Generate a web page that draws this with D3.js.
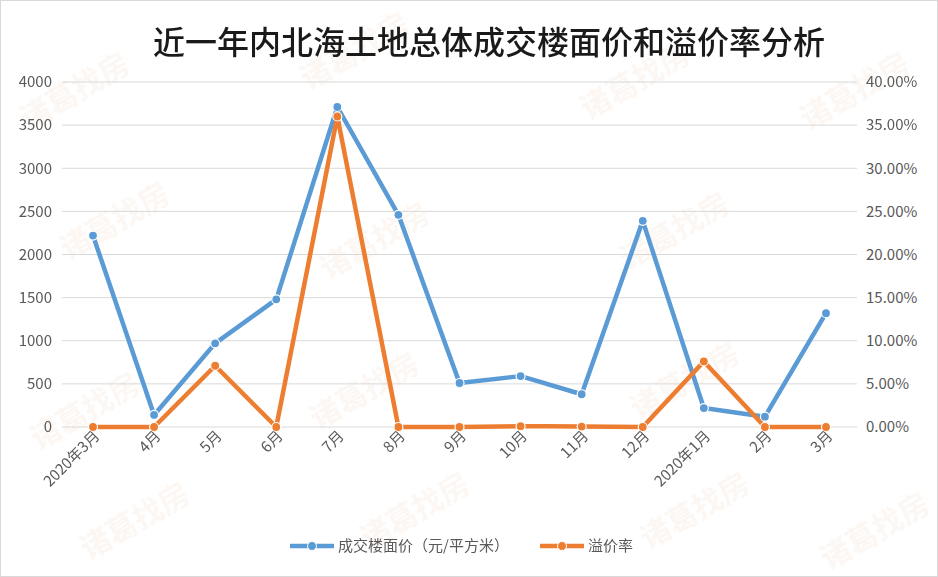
<!DOCTYPE html>
<html><head><meta charset="utf-8">
<script src="https://cdn.jsdelivr.net/npm/d3@7"></script>
<style>body{margin:0;background:#fff;font-family:"Noto Sans CJK SC","Noto Sans",sans-serif;}</style>
</head><body><svg id="c" width="938" height="577"></svg>
<script>
const months = ["2020年3月","4月","5月","6月","7月","8月","9月","10月","11月","12月","2020年1月","2月","3月"];
const price = [2220,140,970,1480,3710,2460,510,590,380,2390,220,120,1320];
const premium = [0,0,7.1,0,36,0,0,0.1,0.05,0,7.6,0,0];
const leftTicks = [0,500,1000,1500,2000,2500,3000,3500,4000];
const rightTicks = [0,5,10,15,20,25,30,35,40];

const svg = d3.select("#c");
svg.append("rect").attr("x",0.5).attr("y",0.5).attr("width",937).attr("height",576)
  .attr("fill","#fff").attr("stroke","#d9d9d9");

// watermark
const wm = svg.append("g").attr("fill","#f6e3d6").attr("font-size",30).attr("font-weight","bold").attr("opacity",0.3);
[[80,100],[360,60],[640,90],[860,100],[120,230],[380,250],[680,240],[90,420],[370,400],[690,390],[140,530],[420,520],[700,520],[880,540]]
  .forEach(([x,y])=>wm.append("text").attr("transform",`translate(${x},${y}) rotate(-30)`).attr("text-anchor","middle").text("诸葛找房"));

svg.append("text").attr("x",489).attr("y",54).attr("text-anchor","middle")
  .attr("font-size",32).attr("font-weight",500).attr("fill","#1a1a1a").attr("font-family","'Noto Sans CJK SC'")
  .text("近一年内北海土地总体成交楼面价和溢价率分析");

const x = d3.scalePoint().domain(months).range([93,826]);
const yL = d3.scaleLinear().domain([0,4000]).range([427,82]);
const yR = d3.scaleLinear().domain([0,40]).range([427,82]);

const grid = svg.append("g");
leftTicks.forEach(t=>grid.append("line").attr("x1",62).attr("x2",857)
  .attr("y1",yL(t)).attr("y2",yL(t)).attr("stroke","#d9d9d9"));

const axL = svg.append("g").attr("transform","translate(52,0)")
  .call(d3.axisLeft(yL).tickValues(leftTicks).tickSize(0).tickPadding(0).tickFormat(d3.format("d")));
const axR = svg.append("g").attr("transform","translate(866,0)")
  .call(d3.axisRight(yR).tickValues(rightTicks).tickSize(0).tickPadding(0).tickFormat(d=>d.toFixed(2)+"%"));
const axB = svg.append("g").attr("transform","translate(0,427)")
  .call(d3.axisBottom(x).tickSize(0).tickPadding(8));
[axL,axR,axB].forEach(a=>{a.select(".domain").remove();
  a.selectAll("text").attr("font-size",15).attr("fill","#595959").attr("font-family","'Noto Sans CJK SC'");});
axB.selectAll("text").attr("text-anchor","end").attr("dx","-2").attr("dy","4")
  .attr("transform","rotate(-45)");

function series(vals, y, color){
  svg.append("path").datum(vals)
    .attr("d",d3.line().x((d,i)=>x(months[i])).y(d=>y(d)))
    .attr("fill","none").attr("stroke",color).attr("stroke-width",4.5).attr("stroke-linejoin","round");
  svg.append("g").selectAll("circle").data(vals).join("circle")
    .attr("cx",(d,i)=>x(months[i])).attr("cy",d=>y(d)).attr("r",4.5)
    .attr("fill",color).attr("stroke","#fff").attr("stroke-width",1.2);
}
series(price,yL,"#5b9bd5");
series(premium,yR,"#ed7d31");

const lg = svg.append("g").attr("font-size",15).attr("fill","#595959");
[["成交楼面价（元/平方米）","#5b9bd5",290],["溢价率","#ed7d31",540]].forEach(([t,c,lx])=>{
  lg.append("line").attr("x1",lx).attr("x2",lx+44).attr("y1",546).attr("y2",546).attr("stroke",c).attr("stroke-width",4.5);
  lg.append("circle").attr("cx",lx+22).attr("cy",546).attr("r",4.5).attr("fill",c).attr("stroke","#fff");
  lg.append("text").attr("x",lx+48).attr("y",551).text(t);
});
</script></body></html>
